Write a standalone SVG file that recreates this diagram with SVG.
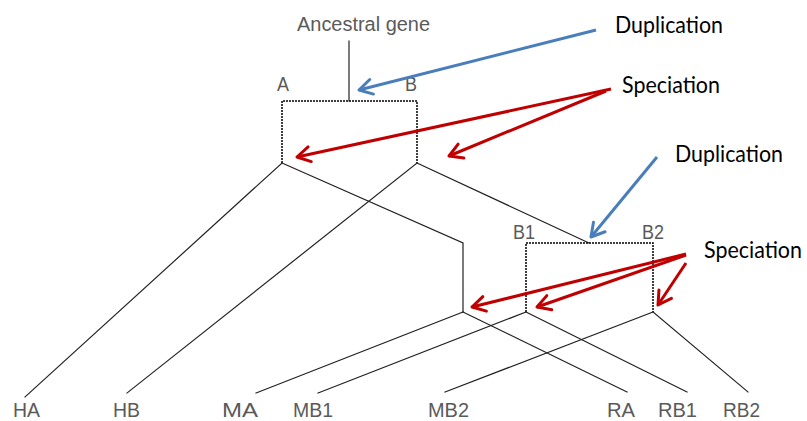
<svg xmlns="http://www.w3.org/2000/svg" width="807" height="421" viewBox="0 0 807 421">
  <defs>
    <style>
      .branch { stroke: #222; stroke-width: 1.2; fill: none; stroke-linecap: square; }
      .box { stroke: #000; stroke-width: 1.5; fill: none; stroke-dasharray: 2 1; }
      .lbl { font-family: "Liberation Sans", Arial, sans-serif; font-size: 20.5px; fill: #5a5a5a; }
      .note { font-family: Lato, "Open Sans", sans-serif; font-size: 22.5px; fill: #000; }
      .dup { stroke: #4A7EBB; stroke-width: 3; fill: none; }
      .spe { stroke: #C00000; stroke-width: 3; fill: none; }
    </style>
    <marker id="headBlue" markerUnits="userSpaceOnUse" markerWidth="30" markerHeight="30" viewBox="-15 -15 30 30" refX="0" refY="0" orient="auto">
      <path d="M-13,-7.5 L0,0 L-13,7.5" stroke="#4A7EBB" stroke-width="3" fill="none" stroke-linecap="round" stroke-linejoin="round"/>
    </marker>
    <marker id="headRed" markerUnits="userSpaceOnUse" markerWidth="30" markerHeight="30" viewBox="-15 -15 30 30" refX="0" refY="0" orient="auto">
      <path d="M-13,-7.5 L0,0 L-13,7.5" stroke="#C00000" stroke-width="3" fill="none" stroke-linecap="round" stroke-linejoin="round"/>
    </marker>
  </defs>
  <rect width="807" height="421" fill="#fff"/>

  <!-- gene tree branches -->
  <g id="connectors">
    <line class="branch" x1="349" y1="41" x2="349" y2="101"/>
    <path class="box" d="M282,163 V101 H417 V163"/>
    <line class="branch" x1="282" y1="163" x2="25" y2="397"/>
    <path class="branch" d="M282,163 L463,243 V312"/>
    <line class="branch" x1="417" y1="163" x2="127" y2="393"/>
    <line class="branch" x1="417" y1="163" x2="589" y2="243"/>
    <path class="box" d="M526,312 V243 H653 V312"/>
    <line class="branch" x1="463" y1="312" x2="256" y2="393"/>
    <line class="branch" x1="463" y1="312" x2="627" y2="392"/>
    <line class="branch" x1="526" y1="312" x2="318" y2="393"/>
    <line class="branch" x1="526" y1="312" x2="687" y2="392"/>
    <line class="branch" x1="653" y1="312" x2="445" y2="392"/>
    <line class="branch" x1="653" y1="312" x2="748" y2="392"/>
  </g>

  <!-- internal nodes -->
  <g id="root"><text class="lbl" x="297" y="31" textLength="133" lengthAdjust="spacingAndGlyphs">Ancestral gene</text></g>
  <g id="nodeA"><text class="lbl" x="277" y="91" textLength="12" lengthAdjust="spacingAndGlyphs">A</text></g>
  <g id="nodeB"><text class="lbl" x="405" y="91" textLength="12" lengthAdjust="spacingAndGlyphs">B</text></g>
  <g id="nodeB1"><text class="lbl" x="513" y="239" textLength="22" lengthAdjust="spacingAndGlyphs">B1</text></g>
  <g id="nodeB2"><text class="lbl" x="642" y="239" textLength="22" lengthAdjust="spacingAndGlyphs">B2</text></g>

  <!-- leaves -->
  <g id="leafHA"><text class="lbl" x="13" y="417" textLength="27" lengthAdjust="spacingAndGlyphs">HA</text></g>
  <g id="leafHB"><text class="lbl" x="113" y="417" textLength="27" lengthAdjust="spacingAndGlyphs">HB</text></g>
  <g id="leafMA"><text class="lbl" x="222" y="417" textLength="36" lengthAdjust="spacingAndGlyphs">MA</text></g>
  <g id="leafMB1"><text class="lbl" x="293" y="417" textLength="40" lengthAdjust="spacingAndGlyphs">MB1</text></g>
  <g id="leafMB2"><text class="lbl" x="428" y="417" textLength="41" lengthAdjust="spacingAndGlyphs">MB2</text></g>
  <g id="leafRA"><text class="lbl" x="607" y="417" textLength="28" lengthAdjust="spacingAndGlyphs">RA</text></g>
  <g id="leafRB1"><text class="lbl" x="658" y="417" textLength="39" lengthAdjust="spacingAndGlyphs">RB1</text></g>
  <g id="leafRB2"><text class="lbl" x="723" y="417" textLength="37" lengthAdjust="spacingAndGlyphs">RB2</text></g>

  <!-- event annotations -->
  <g id="dupNote1">
    <text class="note" x="615" y="33" textLength="108" lengthAdjust="spacingAndGlyphs">Duplication</text>
    <line class="dup" x1="596" y1="30" x2="359" y2="90" marker-end="url(#headBlue)"/>
  </g>
  <g id="speNote1">
    <text class="note" x="622" y="93" textLength="98" lengthAdjust="spacingAndGlyphs">Speciation</text>
    <line class="spe" x1="611" y1="89" x2="297" y2="157" marker-end="url(#headRed)"/>
    <line class="spe" x1="606" y1="91" x2="449" y2="156" marker-end="url(#headRed)"/>
  </g>
  <g id="dupNote2">
    <text class="note" x="675" y="162" textLength="108" lengthAdjust="spacingAndGlyphs">Duplication</text>
    <line class="dup" x1="657" y1="157" x2="591" y2="237" marker-end="url(#headBlue)"/>
  </g>
  <g id="speNote2">
    <text class="note" x="704" y="258" textLength="98" lengthAdjust="spacingAndGlyphs">Speciation</text>
    <line class="spe" x1="686" y1="254" x2="472" y2="307" marker-end="url(#headRed)"/>
    <line class="spe" x1="686" y1="255" x2="537" y2="307" marker-end="url(#headRed)"/>
    <line class="spe" x1="686" y1="263" x2="658" y2="305" marker-end="url(#headRed)"/>
  </g>
</svg>
